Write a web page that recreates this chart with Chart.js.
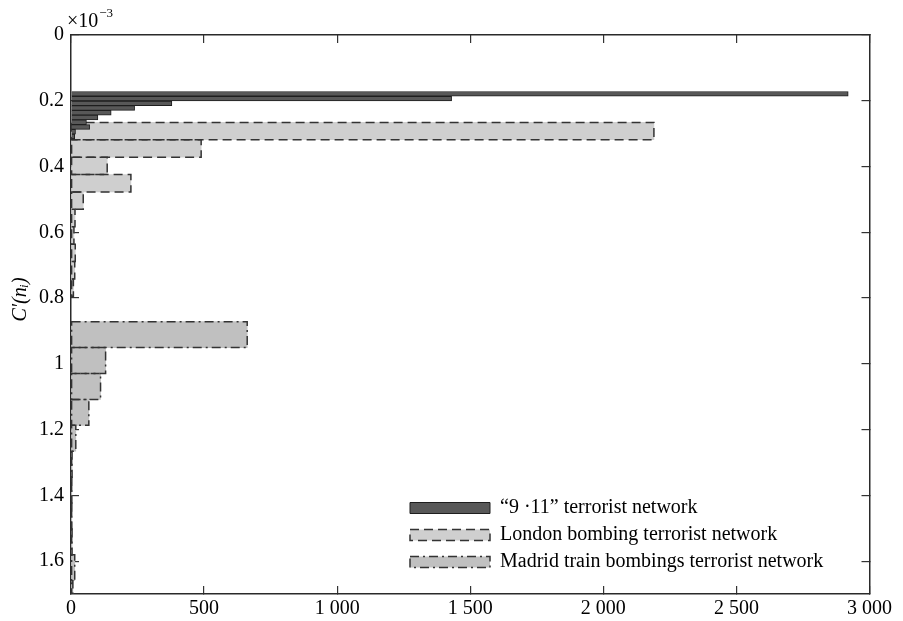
<!DOCTYPE html>
<html><head><meta charset="utf-8">
<script src="https://cdn.jsdelivr.net/npm/chart.js@4.4.1/dist/chart.umd.min.js"></script>
<style>html,body{margin:0;padding:0;background:#fff}#wrap{width:903px;height:621px}</style>
</head><body><div id="wrap"><canvas id="c" width="903" height="621"></canvas></div>
<script>
// ---- data (y in units of 1e-3) ----
const SERIES_NAMES = ['\u201C9 \u00B711\u201D terrorist network', 'London bombing terrorist network', 'Madrid train bombings terrorist network'];
const BIN_911 = 0.0144;
const Y_911 = [0.179, 0.1934, 0.2078, 0.2222, 0.2366, 0.251, 0.2654, 0.2798, 0.2942, 0.3086];
const N_911 = [2920, 1430, 379, 239, 151, 101, 58, 70, 17, 14];
const BIN_LON = 0.0529;
const Y_LON = [0.2922, 0.3451, 0.398, 0.4509, 0.5038, 0.5567, 0.6096, 0.6625, 0.7154, 0.7683];
const N_LON = [2190, 489, 136, 225, 46, 15, 11, 16, 14, 9];
const BIN_MAD = 0.0788;
const Y_MAD = [0.9112, 0.99, 1.0688, 1.1476, 1.2264, 1.3052, 1.384, 1.4628, 1.5416, 1.6204, 1.6992];
const N_MAD = [662, 130, 111, 67, 18, 4, 3, 3, 4, 14, 7];
const X_MIN = 0, X_MAX = 3000, X_STEP = 500;
const Y_MIN = 0, Y_MAX = 1.7, Y_STEP = 0.2;
const Y_TITLE = 'C\u2032(n\u1D62)';
const Y_EXP_BASE = '\u00D710', Y_EXP_POW = '\u22123';

const FONT = "'Liberation Serif', 'Times New Roman', 'DejaVu Serif', serif";
const STYLE = [
  {fill: '#585858', stroke: '#1e1e1e', lw: 1, dash: []},
  {fill: '#cfcfcf', stroke: '#333333', lw: 1.5, dash: [9, 5]},
  {fill: '#c0c0c0', stroke: '#333333', lw: 1.5, dash: [9, 4, 2, 4]}
];

function toPts(ys, ns) { return ys.map((y, i) => ({y: y, x: ns[i]})); }
function thick(bw) {
  return (ctx) => {
    const s = ctx.chart.scales && ctx.chart.scales.y;
    if (!s || !s._length) return 1;
    return Math.abs(s.getPixelForValue(bw) - s.getPixelForValue(0));
  };
}
function fmtThousands(v) {
  const s = String(Math.round(v));
  return s.length > 3 ? s.slice(0, s.length - 3) + ' ' + s.slice(-3) : s;
}

const dashedOutline = {
  id: 'dashedOutline',
  afterDatasetDraw(chart, args) {
    const i = args.index;
    if (i === 0) return;
    const st = STYLE[i];
    const ctx = chart.ctx, a = chart.chartArea;
    ctx.save();
    ctx.beginPath(); ctx.rect(a.left, a.top, a.right - a.left, a.bottom - a.top); ctx.clip();
    ctx.strokeStyle = st.stroke; ctx.lineWidth = st.lw; ctx.setLineDash(st.dash);
    args.meta.data.forEach(el => {
      const p = el.getProps(['x', 'y', 'base', 'height'], true);
      const l = Math.min(p.x, p.base), r = Math.max(p.x, p.base);
      ctx.strokeRect(l, p.y - p.height / 2, r - l, p.height);
    });
    ctx.restore();
  }
};

const placeLegend = {
  id: 'placeLegend',
  afterLayout(chart) {
    const lg = chart.legend;
    if (!lg) return;
    lg.left = 403; lg.top = 491; lg.right = 903; lg.bottom = 621;
  }
};

const exponentLabel = {
  id: 'exponentLabel',
  afterDraw(chart) {
    const ctx = chart.ctx;
    ctx.save();
    ctx.fillStyle = '#000';
    ctx.textBaseline = 'alphabetic';
    ctx.font = '20px ' + FONT;
    ctx.fillText(Y_EXP_BASE, 67, 27);
    const w = ctx.measureText(Y_EXP_BASE).width;
    ctx.font = '13px ' + FONT;
    ctx.fillText(Y_EXP_POW, 67 + w + 1, 17);
    ctx.restore();
  }
};

function axis(extra) {
  return Object.assign({
    offset: false,
    grid: {drawOnChartArea: false, offset: false, tickLength: -8, color: '#333', lineWidth: 1.2},
    border: {display: true, color: '#2a2a2a', width: 1.5}
  }, extra);
}

new Chart(document.getElementById('c'), {
  type: 'bar',
  data: {
    datasets: [
      {label: SERIES_NAMES[0], data: toPts(Y_911, N_911), backgroundColor: STYLE[0].fill, borderColor: STYLE[0].stroke, borderWidth: 1, barThickness: thick(BIN_911)},
      {label: SERIES_NAMES[1], data: toPts(Y_LON, N_LON), backgroundColor: STYLE[1].fill, borderWidth: 0, barThickness: thick(BIN_LON)},
      {label: SERIES_NAMES[2], data: toPts(Y_MAD, N_MAD), backgroundColor: STYLE[2].fill, borderWidth: 0, barThickness: thick(BIN_MAD)}
    ]
  },
  options: {
    indexAxis: 'y',
    responsive: false,
    animation: false,
    devicePixelRatio: 1,
    layout: {padding: {top: 35, right: 24, left: 0, bottom: 0}},
    datasets: {bar: {grouped: false}},
    scales: {
      x: axis({
        type: 'linear', position: 'bottom', min: X_MIN, max: X_MAX,
        ticks: {stepSize: X_STEP, padding: 11, color: '#000', font: {size: 20, family: FONT}, callback: v => fmtThousands(v), maxRotation: 0},
        afterFit: s => { s.height = 25; }
      }),
      x2: axis({
        type: 'linear', position: 'top', min: X_MIN, max: X_MAX,
        ticks: {stepSize: X_STEP, display: false},
        afterFit: s => { s.height = 0; }
      }),
      y: axis({
        type: 'linear', position: 'left', reverse: true, min: Y_MIN, max: Y_MAX,
        ticks: {stepSize: Y_STEP, includeBounds: false, padding: 15, color: '#000', font: {size: 20, family: FONT}, callback: v => String(Number(v.toFixed(2)))},
        title: {display: true, text: '\u00A0\u00A0\u00A0\u00A0\u00A0\u00A0' + Y_TITLE, color: '#000', font: {size: 20, style: 'italic', family: FONT}, padding: {top: 9, bottom: 0}},
        afterFit: s => { s.width = 71; }
      }),
      y2: axis({
        type: 'linear', position: 'right', reverse: true, min: Y_MIN, max: Y_MAX,
        ticks: {stepSize: Y_STEP, includeBounds: false, display: false},
        afterFit: s => { s.width = 0; }
      })
    },
    plugins: {
      tooltip: {enabled: false},
      legend: {
        position: 'chartArea',
        align: 'start',
        labels: {
          boxWidth: 80, boxHeight: 11, padding: 7, color: '#000',
          font: {size: 20, family: FONT},
          generateLabels: chart => chart.data.datasets.map((d, i) => ({
            text: d.label, fillStyle: STYLE[i].fill, strokeStyle: STYLE[i].stroke,
            lineWidth: STYLE[i].lw, lineDash: STYLE[i].dash, hidden: false, datasetIndex: i
          }))
        }
      }
    }
  },
  plugins: [dashedOutline, placeLegend, exponentLabel]
});
</script></body></html>
